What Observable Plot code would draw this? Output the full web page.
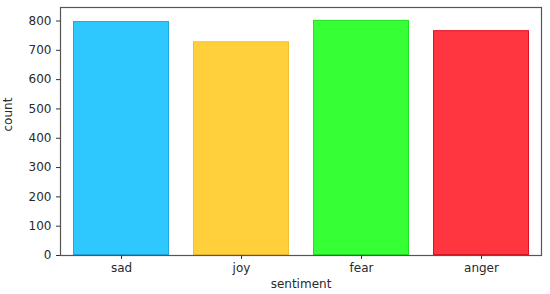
<!DOCTYPE html>
<html>
<head>
<meta charset="utf-8">
<script src="https://cdn.jsdelivr.net/npm/d3@7"></script>
<script src="https://cdn.jsdelivr.net/npm/@observablehq/plot@0.6"></script>
<style>
  html, body { margin: 0; padding: 0; background: #fff; }
  svg { font-family: "DejaVu Sans", sans-serif; }
</style>
</head>
<body>
<div id="chart"></div>
<script>
const sentiments = ["sad", "joy", "fear", "anger"];
const counts = [798, 729, 802, 767];
const fills = ["#2ec8ff", "#ffd03c", "#36ff36", "#ff363f"];
const strokes = ["#1ea8e0", "#f0c030", "#22e022", "#e01020"];
const yTicks = [0, 100, 200, 300, 400, 500, 600, 700, 800];

const data = sentiments.map((s, i) => ({sentiment: s, count: counts[i], fill: fills[i], stroke: strokes[i]}));

const chart = Plot.plot({
  width: 550,
  height: 294,
  marginLeft: 60,
  marginRight: 9,
  marginTop: 7,
  marginBottom: 39,
  style: {fontFamily: "DejaVu Sans, sans-serif", fontSize: "12px", color: "#2a2a2a", background: "#fff"},
  x: {domain: sentiments, paddingInner: 0.2, paddingOuter: 0.1, label: null},
  y: {domain: [0, 846], label: null},
  marks: [
    Plot.barY(data, {x: "sentiment", y: "count", fill: "fill", stroke: "stroke", strokeWidth: 1, inset: 0.5}),
    Plot.frame({stroke: "#555", strokeWidth: 1.2}),
    Plot.axisY({ticks: yTicks, tickSize: 4, tickPadding: 5, stroke: "#333", label: null}),
    Plot.axisX({tickSize: 4, tickPadding: 4, stroke: "#333", label: null}),
    Plot.text(["sentiment"], {frameAnchor: "bottom", dy: 32, fontSize: 12, fill: "#2a2a2a"}),
    Plot.text(["count"], {frameAnchor: "left", dx: -52, rotate: -90, fontSize: 12, fill: "#2a2a2a"})
  ]
});
document.getElementById("chart").appendChild(chart);
</script>
</body>
</html>
